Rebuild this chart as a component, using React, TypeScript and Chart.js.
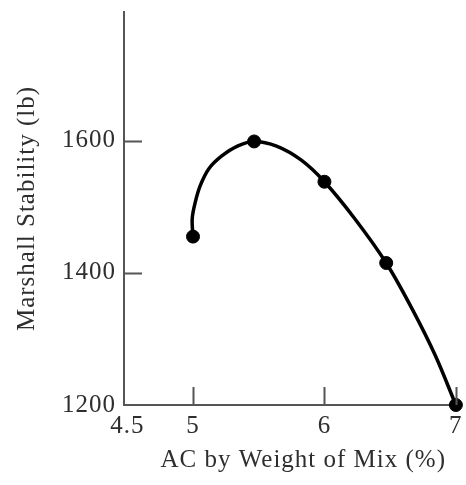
import React, { useEffect, useRef } from "react";
import { Chart, registerables } from "chart.js";

Chart.register(...registerables);

// Axis tick values
const acTicks = [4.5, 5, 6, 7];
const stabilityTicks = [1200, 1400, 1600];

// Measured points (AC %, Marshall stability lb)
const measuredAc = [5, 5.465, 6.0, 6.47, 7];
const measuredStability = [1455, 1599, 1538, 1415, 1200];

// Hand-drawn fitted curve
const curveAc = [5.0, 4.994, 5.016, 5.055, 5.122, 5.219, 5.338, 5.465, 5.636, 5.822, 6.0, 6.231, 6.47, 6.663, 6.841, 7.0];
const curveStability = [1455, 1482, 1506, 1532, 1558, 1577, 1592, 1599, 1592, 1571, 1538, 1482, 1415, 1347, 1276, 1200];

const xTitle = "AC by Weight of Mix (%)";
const yTitle = "Marshall Stability (lb)";

const FONT = "'Liberation Serif', 'DejaVu Serif', serif";
const TEXT = "#2e2e2e";
const AXIS = "#555555";

const innerTicks = {
  id: "innerTicks",
  beforeDraw(chart: any) {
    chart.ctx.letterSpacing = "1px";
  },
  afterDraw(chart: any) {
    const { ctx, chartArea } = chart;
    const xs = chart.scales.x;
    const ys = chart.scales.y;
    ctx.save();
    ctx.strokeStyle = AXIS;
    ctx.lineWidth = 2;
    ctx.beginPath();
    stabilityTicks.slice(1).forEach((v) => {
      const py = Math.round(ys.getPixelForValue(v)) + 0.5;
      ctx.moveTo(chartArea.left, py);
      ctx.lineTo(chartArea.left + 18, py);
    });
    acTicks.slice(1).forEach((v) => {
      const px = Math.round(xs.getPixelForValue(v)) + 0.5;
      ctx.moveTo(px, chartArea.bottom);
      ctx.lineTo(px, chartArea.bottom - 18);
    });
    ctx.stroke();
    // x-axis title, centred a little right of the plot centre as in the source
    ctx.letterSpacing = "1px";
    ctx.font = `25px ${FONT}`;
    ctx.fillStyle = TEXT;
    ctx.textAlign = "center";
    ctx.textBaseline = "middle";
    ctx.fillText(xTitle, (chartArea.left + chartArea.right) / 2 + 12, chartArea.bottom + 55);
    ctx.restore();
  },
};

export default function App() {
  const ref = useRef<HTMLCanvasElement | null>(null);

  useEffect(() => {
    document.body.style.margin = "0";
    const canvas = ref.current;
    if (!canvas) return;
    const chart = new Chart(canvas, {
      type: "scatter",
      data: {
        datasets: [
          {
            type: "line",
            data: curveAc.map((x, i) => ({ x, y: curveStability[i] })),
            borderColor: "#000",
            borderWidth: 3.5,
            pointRadius: 0,
            tension: 0.35,
            fill: false,
            clip: false,
          } as any,
          {
            data: measuredAc.map((x, i) => ({ x, y: measuredStability[i] })),
            backgroundColor: "#000",
            borderColor: "#000",
            pointRadius: 6.5,
            clip: false,
          } as any,
        ],
      },
      options: {
        animation: false,
        responsive: true,
        maintainAspectRatio: false,
        layout: { padding: { top: 12, right: 0, bottom: 0, left: 0 } },
        plugins: { legend: { display: false }, tooltip: { enabled: false } },
        scales: {
          x: {
            type: "linear",
            min: 4.475,
            max: 7.02,
            afterBuildTicks: (s: any) => {
              s.ticks = acTicks.map((value) => ({ value }));
            },
            afterFit: (s: any) => {
              s.height = 80;
              s.paddingLeft = 0;
              s.paddingRight = 0;
            },
            grid: { display: false, drawTicks: false },
            border: { display: true, color: AXIS, width: 2 },
            ticks: {
              font: { family: FONT, size: 25 },
              color: TEXT,
              padding: 6,
              maxRotation: 0,
              autoSkip: false,
              callback: (v: any) => String(v),
            },
            title: { display: false },
          },
          y: {
            type: "linear",
            min: 1200,
            max: 1795,
            afterBuildTicks: (s: any) => {
              s.ticks = stabilityTicks.map((value) => ({ value }));
            },
            afterFit: (s: any) => {
              s.width = 124;
              s.paddingTop = 0;
              s.paddingBottom = 0;
            },
            grid: { display: false, drawTicks: false },
            border: { display: true, color: AXIS, width: 2 },
            ticks: {
              font: { family: FONT, size: 25 },
              color: TEXT,
              padding: 8,
              autoSkip: false,
              callback: (v: any) => String(v),
            },
            title: {
              display: true,
              text: yTitle,
              font: { family: FONT, size: 25 },
              color: TEXT,
              padding: { top: 12, bottom: 0 },
            },
          },
        },
      },
      plugins: [innerTicks],
    });
    return () => chart.destroy();
  }, []);

  return (
    <div style={{ position: "relative", width: 466, height: 485 }}>
      <canvas ref={ref} />
    </div>
  );
}
